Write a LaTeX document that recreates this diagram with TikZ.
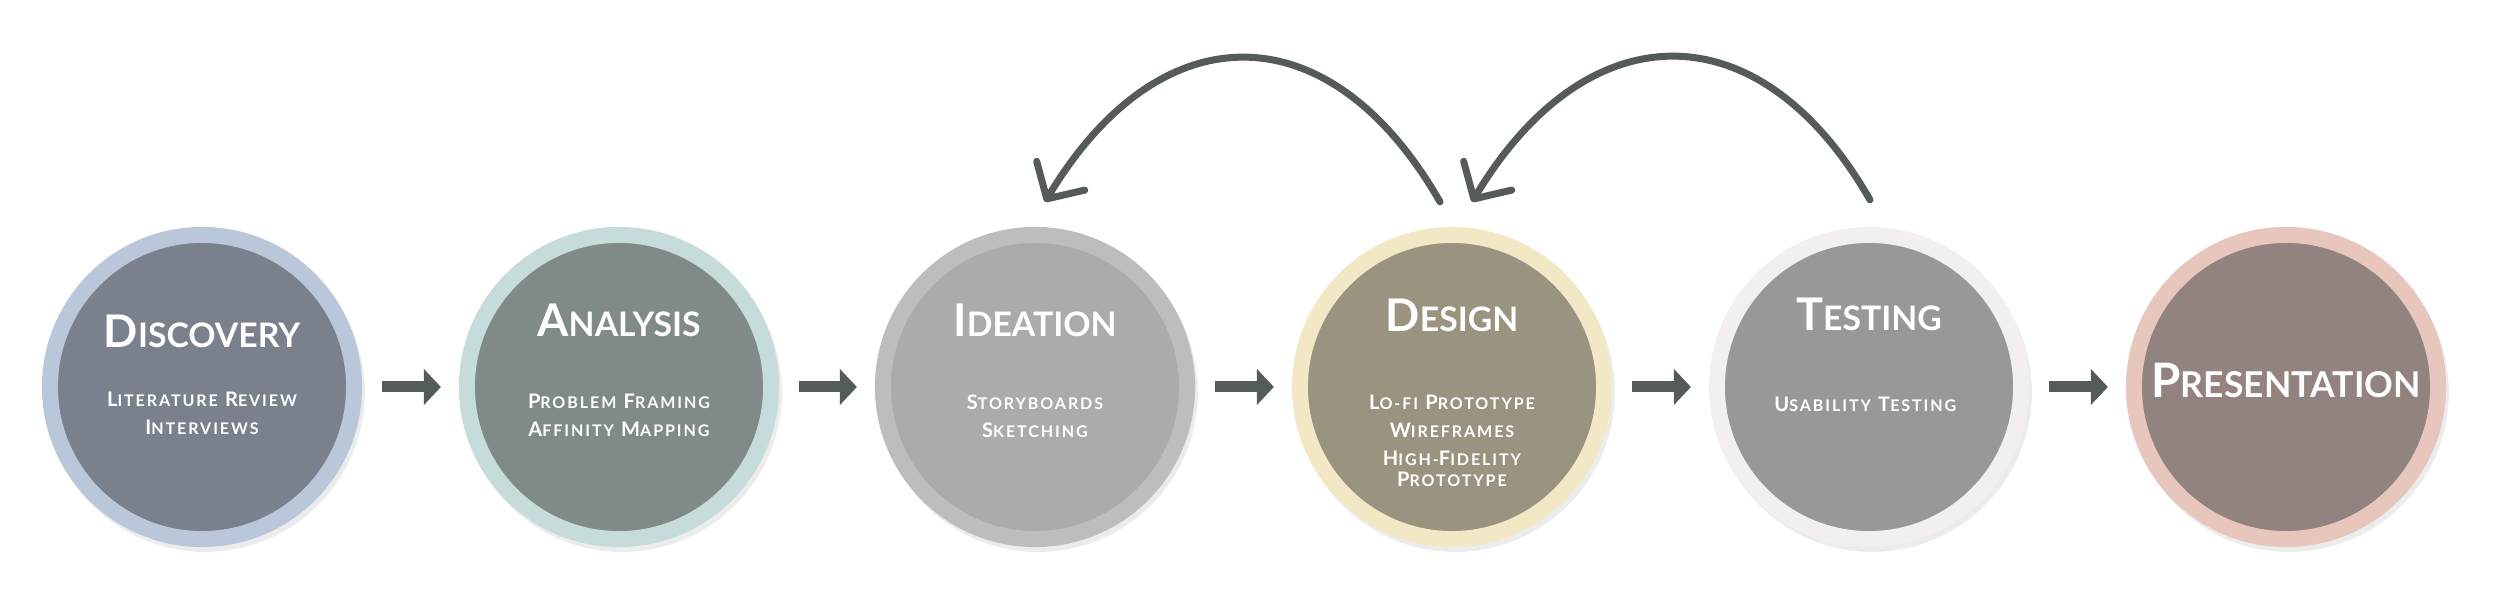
\documentclass[tikz,border=0pt]{standalone}
\usepackage{fontspec}
\usepackage{graphicx}
\setmainfont{Lato}
\newfontfamily\itemfont{Lato}[LetterSpace=12]
\usetikzlibrary{arrows.meta,shadows}

\definecolor{arrowgray}{HTML}{555B5A}
\definecolor{ringdis}{HTML}{BAC7DB}
\definecolor{coredis}{HTML}{7A808C}
\definecolor{ringana}{HTML}{C5DCDA}
\definecolor{coreana}{HTML}{7F8A89}
\definecolor{ringide}{HTML}{BDBDBD}
\definecolor{coreide}{HTML}{ABABAB}
\definecolor{ringdes}{HTML}{F3E8C6}
\definecolor{coredes}{HTML}{9A937F}
\definecolor{ringtes}{HTML}{F2EFEE}
\definecolor{coretes}{HTML}{999897}
\definecolor{ringpre}{HTML}{E6C6BD}
\definecolor{corepre}{HTML}{928280}

% fake small caps: first letter full size, rest scaled
\newcommand\headsc[2]{#1\scalebox{0.75}{#2}}
\newcommand\itemsc[2]{#1\scalebox{0.8}{#2}}

\tikzset{
  stage/.style={circle, minimum size=3.04cm, line width=0.16cm, inner sep=0pt,
    drop shadow={shadow scale=1.05, shadow xshift=0.03cm, shadow yshift=-0.05cm, opacity=0.15}},
  heading/.style={anchor=base, text=white, font=\fontsize{12.8pt}{15pt}\selectfont\bfseries},
  items/.style={anchor=base, text=white, align=center, font=\itemfont\fontsize{5.7pt}{8pt}\selectfont\bfseries},
  flow/.style={arrowgray, line width=0.11cm, -{Triangle[length=0.17cm, width=0.35cm]},
    shorten <=0.2cm, shorten >=0.18cm},
  loopback/.style={arrowgray, line width=0.07cm, line cap=round,
    -{Straight Barb[round, length=0.27cm, width=0.56cm]}}
}

\begin{document}
\begin{tikzpicture}[x=0.01cm, y=-0.01cm]
  \useasboundingbox (0,0) rectangle (2500,601);

  % stages with their methods (\iy = baseline of the last line)
  \foreach \id/\cx/\ty/\head/\iy/\sublines in {
    dis/202/348/{\headsc{D}{ISCOVERY}}/435/{\itemsc{L}{ITERATURE} \itemsc{R}{EVIEW}\\\itemsc{I}{NTERVIEWS}},
    ana/619/337/{\headsc{A}{NALYSIS}}/437/{\itemsc{P}{ROBLEM} \itemsc{F}{RAMING}\\\itemsc{A}{FFINITY} \itemsc{M}{APPING}},
    ide/1035/337/{\headsc{I}{DEATION}}/438/{\itemsc{S}{TORYBOARDS}\\\itemsc{S}{KETCHING}},
    des/1452/332/{\headsc{D}{ESIGN}}/487/{\itemsc{L}{O-FI} \itemsc{P}{ROTOTYPE}\\\itemsc{W}{IREFRAMES}\\\itemsc{H}{IGH-}\itemsc{F}{IDELITY}\\[-2pt]\itemsc{P}{ROTOTYPE}},
    tes/1869/331/{\headsc{T}{ESTING}}/412/{\itemsc{U}{SABILITY} \itemsc{T}{ESTING}}
  }{
    \node[stage, draw=ring\id, fill=core\id] (\id) at (\cx,387) {};
    \node[heading] (\id-h) at (\cx,\ty) {\head};
    \node[items] (\id-i) at (\cx,\iy) {\sublines};
  }
  \node[stage, draw=ringpre, fill=corepre] (pre) at (2286,387) {};
  \node[heading, font=\fontsize{13.5pt}{16pt}\selectfont\bfseries] (pre-h) at (2286,398) {\headsc{P}{RESENTATION}};

  % forward steps
  \foreach \a/\b in {dis/ana, ana/ide, ide/des, des/tes, tes/pre}
    \draw[flow] (\a) -- (\b);

  % iteration loops
  \draw[loopback] ([shift={(-12,-25)}]des.north) .. controls +(-110,-192) and +(115,-192) .. ([shift={(10,-25)}]ide.north);
  \draw[loopback] ([shift={(1,-27)}]tes.north) .. controls +(-110,-192) and +(115,-192) .. ([shift={(20,-25)}]des.north);
\end{tikzpicture}
\end{document}
